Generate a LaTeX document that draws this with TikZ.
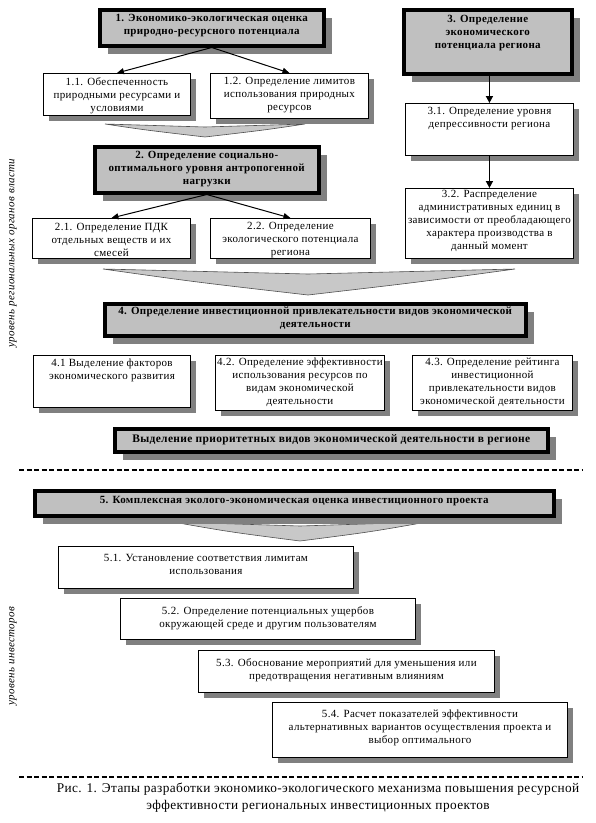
\documentclass[tikz,border=0pt]{standalone}
\usepackage{fontspec}
\setmainfont{Liberation Serif}[LetterSpace=3]
\usetikzlibrary{shadows,arrows.meta,calc}
\definecolor{boxgray}{RGB}{192,192,192}
\definecolor{shadowgray}{RGB}{128,128,128}
\definecolor{chevgray}{RGB}{200,200,200}
\definecolor{chevline}{RGB}{80,80,80}
\newcommand\mkbox[9]{%
  \node[#2, minimum width={(#5)-(#3)}, minimum height={(#6)-(#4)}, anchor=north west] (#1) at (#3,#4) {};
  \node[#8, anchor=north] (#1t) at ($(#1.north)+(0,#7)$) {#9};
}
\tikzset{
  plainbox/.style={draw=black, line width=0.9pt, fill=white, inner sep=0pt,
    drop shadow={shadow xshift=6pt, shadow yshift=-6pt, fill=shadowgray, opacity=1}},
  keybox/.style={draw=black, line width=3.5pt, fill=boxgray, inner sep=0pt,
    drop shadow={shadow xshift=8pt, shadow yshift=-8pt, fill=shadowgray, opacity=1}},
  txt/.style={inner sep=0pt, align=center, font=\fontsize{11}{13}\selectfont},
  btxt/.style={inner sep=0pt, align=center, font=\fontsize{11}{13}\selectfont\bfseries},
  arr/.style={line width=1pt, -{Triangle[length=7pt,width=6pt]}},
  arrb/.style={line width=1.6pt, -{Triangle[length=7pt,width=7pt]}},
  chev/.style={fill=chevgray, draw=chevline, line width=0.6pt},
  sepline/.style={line width=1.3pt, dash pattern=on 5pt off 2.5pt},
  sidelabel/.style={rotate=90, font=\fontsize{11}{12}\selectfont\itshape, inner sep=0pt},
}
\begin{document}
\begin{tikzpicture}[x=1pt,y=-1pt]
\useasboundingbox (0,0) rectangle (596,823);

% chevrons
\path[chev] (105,124) -- (205,127) -- (305,124) .. controls (265,130) .. (205,137) .. controls (145,130) .. cycle;
\path[chev] (103,269) -- (308,274) -- (515,269) .. controls (420,282) .. (308,295) .. controls (195,282) .. cycle;
\path[chev] (173,522) -- (300,526) -- (427,522) .. controls (370,532) .. (300,541) .. controls (230,532) .. cycle;

% level 1
\mkbox{b1}{keybox}{98}{8}{322}{44}{6}{btxt}{1. Экономико-экологическая оценка\\природно-ресурсного потенциала}
\mkbox{b11}{plainbox}{43}{73}{190}{115}{4}{txt}{1.1. Обеспеченность\\природными ресурсами и\\условиями}
\mkbox{b12}{plainbox}{210}{73}{368}{118}{4}{txt}{1.2. Определение лимитов\\использования природных\\ресурсов}

\mkbox{b3}{keybox}{402}{8}{570}{72}{7}{btxt}{3. Определение\\экономического\\потенциала региона}
\mkbox{b31}{plainbox}{405}{103}{573}{155}{4.5}{txt}{3.1. Определение уровня\\депрессивности региона}
\mkbox{b32}{plainbox}{405}{188}{573}{258}{2.5}{txt}{3.2. Распределение\\административных единиц в\\зависимости от преобладающего\\характера производства в\\данный момент}

\mkbox{b2}{keybox}{93}{145}{317}{191}{6.5}{btxt}{2. Определение социально-\\оптимального уровня антропогенной\\нагрузки}
\mkbox{b21}{plainbox}{32}{218}{190}{258}{5}{txt}{2.1. Определение ПДК\\отдельных веществ и их\\смесей}
\mkbox{b22}{plainbox}{210}{218}{370}{258}{4.5}{txt}{2.2. Определение\\экологического потенциала\\региона}

\mkbox{b4}{keybox}{103}{302}{524}{334}{4.5}{btxt}{4. Определение инвестиционной привлекательности видов экономической\\деятельности}
\mkbox{b41}{plainbox}{33}{355}{190}{407}{4}{txt}{4.1 Выделение факторов\\экономического развития}
\mkbox{b42}{plainbox}{215}{355}{384}{410}{3}{txt}{4.2. Определение эффективности\\использования ресурсов по\\видам экономической\\деятельности}
\mkbox{b43}{plainbox}{412}{355}{572}{410}{3}{txt}{4.3. Определение рейтинга\\инвестиционной\\привлекательности видов\\экономической деятельности}
\mkbox{bp}{keybox}{113}{427}{546}{450}{7}{btxt}{\fontsize{11.5}{13}\selectfont Выделение приоритетных видов экономической деятельности в регионе}

% level 2
\mkbox{b5}{keybox}{33}{489}{552}{514}{7.5}{btxt}{5. Комплексная эколого-экономическая оценка инвестиционного проекта}
\mkbox{b51}{plainbox}{58}{546}{353}{588}{8.5}{txt}{5.1. Установление соответствия лимитам\\использования}
\mkbox{b52}{plainbox}{120}{598}{415}{639}{8.5}{txt}{5.2. Определение потенциальных ущербов\\окружающей среде и другим пользователям}
\mkbox{b53}{plainbox}{198}{650}{494}{692}{8.5}{txt}{5.3. Обоснование мероприятий для уменьшения или\\предотвращения негативным влияниям}
\mkbox{b54}{plainbox}{272}{702}{567}{757}{7.5}{txt}{5.4. Расчет показателей эффективности\\альтернативных вариантов осуществления проекта и\\выбор оптимального}

% arrows
\draw[arr] (b1.south) -- (b11.north);
\draw[arr] (b1.south) -- (b12.north);
\draw[arr] (b2.south) -- (b21.north);
\draw[arr] (b2.south) -- (b22.north);
\draw[arrb] (b3.south -| b31.north) -- (b31.north);
\draw[arrb] (b31.south) -- (b32.north);

% separators
\coordinate (s1a) at (19,470); \coordinate (s1b) at (582,470);
\coordinate (s2a) at (19,777); \coordinate (s2b) at (582,777);
\draw[sepline] (s1a) -- (s1b);
\draw[sepline] (s2a) -- (s2b);

% side labels
\node[sidelabel] (lv1) at (13,253) {уровень региональных органов власти};
\node[sidelabel] (lv2) at (13,656) {уровень инвесторов};

% caption
\node[align=center, inner sep=0pt, font=\fontsize{13.3}{17}\selectfont] (cap) at (318,798) {Рис. 1. Этапы разработки экономико-экологического механизма повышения ресурсной\\эффективности региональных инвестиционных проектов};
\end{tikzpicture}
\end{document}
